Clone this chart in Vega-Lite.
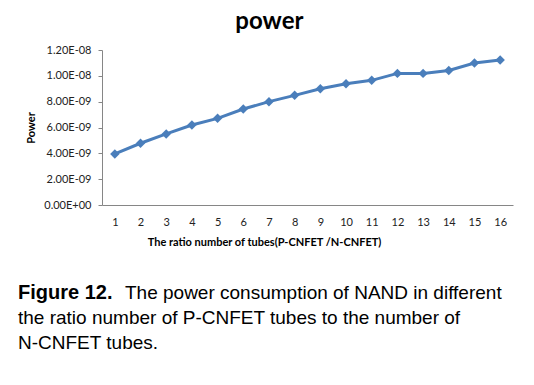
{
  "$schema": "https://vega.github.io/schema/vega-lite/v6.json",
  "background": "white",
  "padding": {"left": 18, "top": 10, "right": 10, "bottom": 5},
  "spacing": 33,
  "config": {"view": {"stroke": null}, "font": "Lato"},
  "vconcat": [
    {
      "title": {"text": "power", "font": "Lato", "fontSize": 24, "fontWeight": "bold", "color": "#000000", "frame": "bounds", "anchor": "middle", "offset": 10},
      "width": 411,
      "height": 155,
      "data": {"values": [
        {"ratio": 1, "power": 3.95e-9},
        {"ratio": 2, "power": 4.78e-9},
        {"ratio": 3, "power": 5.50e-9},
        {"ratio": 4, "power": 6.19e-9},
        {"ratio": 5, "power": 6.71e-9},
        {"ratio": 6, "power": 7.43e-9},
        {"ratio": 7, "power": 8.00e-9},
        {"ratio": 8, "power": 8.49e-9},
        {"ratio": 9, "power": 9.00e-9},
        {"ratio": 10, "power": 9.39e-9},
        {"ratio": 11, "power": 9.65e-9},
        {"ratio": 12, "power": 10.19e-9},
        {"ratio": 13, "power": 10.19e-9},
        {"ratio": 14, "power": 10.42e-9},
        {"ratio": 15, "power": 10.99e-9},
        {"ratio": 16, "power": 11.22e-9}
      ]},
      "encoding": {
        "x": {"field": "ratio", "type": "ordinal", "axis": {
          "title": "The ratio number of tubes(P-CNFET /N-CNFET)", "labelAngle": 0, "ticks": false, "labelPadding": 11,
          "labelFont": "Lato", "labelFontSize": 11, "labelColor": "#222222",
          "titleFont": "Lato", "titleFontSize": 11, "titleFontWeight": "bold", "titleColor": "#000000", "titlePadding": 9, "titleX": 162,
          "domainColor": "#868686", "domainWidth": 1, "grid": false}},
        "y": {"field": "power", "type": "quantitative", "scale": {"domain": [0, 1.2e-8]}, "axis": {
          "title": "Power", "values": [0, 2e-9, 4e-9, 6e-9, 8e-9, 1e-8, 1.2e-8],
          "labelExpr": "datum.value == 0 ? '0.00E+00' : replace(upper(format(datum.value, '.2e')), 'E-', 'E-0')",
          "labelFont": "Lato", "labelFontSize": 11, "labelColor": "#222222", "labelPadding": 7,
          "tickSize": 4, "tickColor": "#868686", "domainColor": "#868686", "grid": false,
          "titleFont": "Lato", "titleFontSize": 11, "titleFontWeight": "bold", "titleColor": "#000000", "titlePadding": 7}}
      },
      "layer": [
        {"mark": {"type": "line", "color": "#4a7ebb", "strokeWidth": 3}},
        {"mark": {"type": "point", "shape": "diamond", "filled": true, "size": 90, "color": "#4a7ebb", "opacity": 1}}
      ]
    },
    {
      "width": 411,
      "height": 75,
      "layer": [
        {
          "data": {"values": [{"line": 1, "text": "Figure 12."}]},
          "mark": {"type": "text", "align": "left", "baseline": "middle", "font": "Liberation Sans", "fontSize": 20, "fontWeight": "bold", "color": "#000000"},
          "encoding": {"y": {"field": "line", "type": "ordinal", "axis": null, "scale": {"domain": [1, 2, 3]}}, "x": {"value": -84}, "text": {"field": "text"}}
        },
        {
          "data": {"values": [{"line": 1, "text": "The power consumption of NAND in different"}]},
          "mark": {"type": "text", "align": "left", "baseline": "middle", "font": "Liberation Sans", "fontSize": 19, "color": "#000000", "dx": 107},
          "encoding": {"y": {"field": "line", "type": "ordinal", "axis": null}, "x": {"value": -84}, "text": {"field": "text"}}
        },
        {
          "data": {"values": [{"line": 2, "text": "the ratio number of P-CNFET tubes to the number of"}, {"line": 3, "text": "N-CNFET tubes."}]},
          "mark": {"type": "text", "align": "left", "baseline": "middle", "font": "Liberation Sans", "fontSize": 19, "color": "#000000"},
          "encoding": {"y": {"field": "line", "type": "ordinal", "axis": null}, "x": {"value": -84}, "text": {"field": "text"}}
        }
      ]
    }
  ]
}
